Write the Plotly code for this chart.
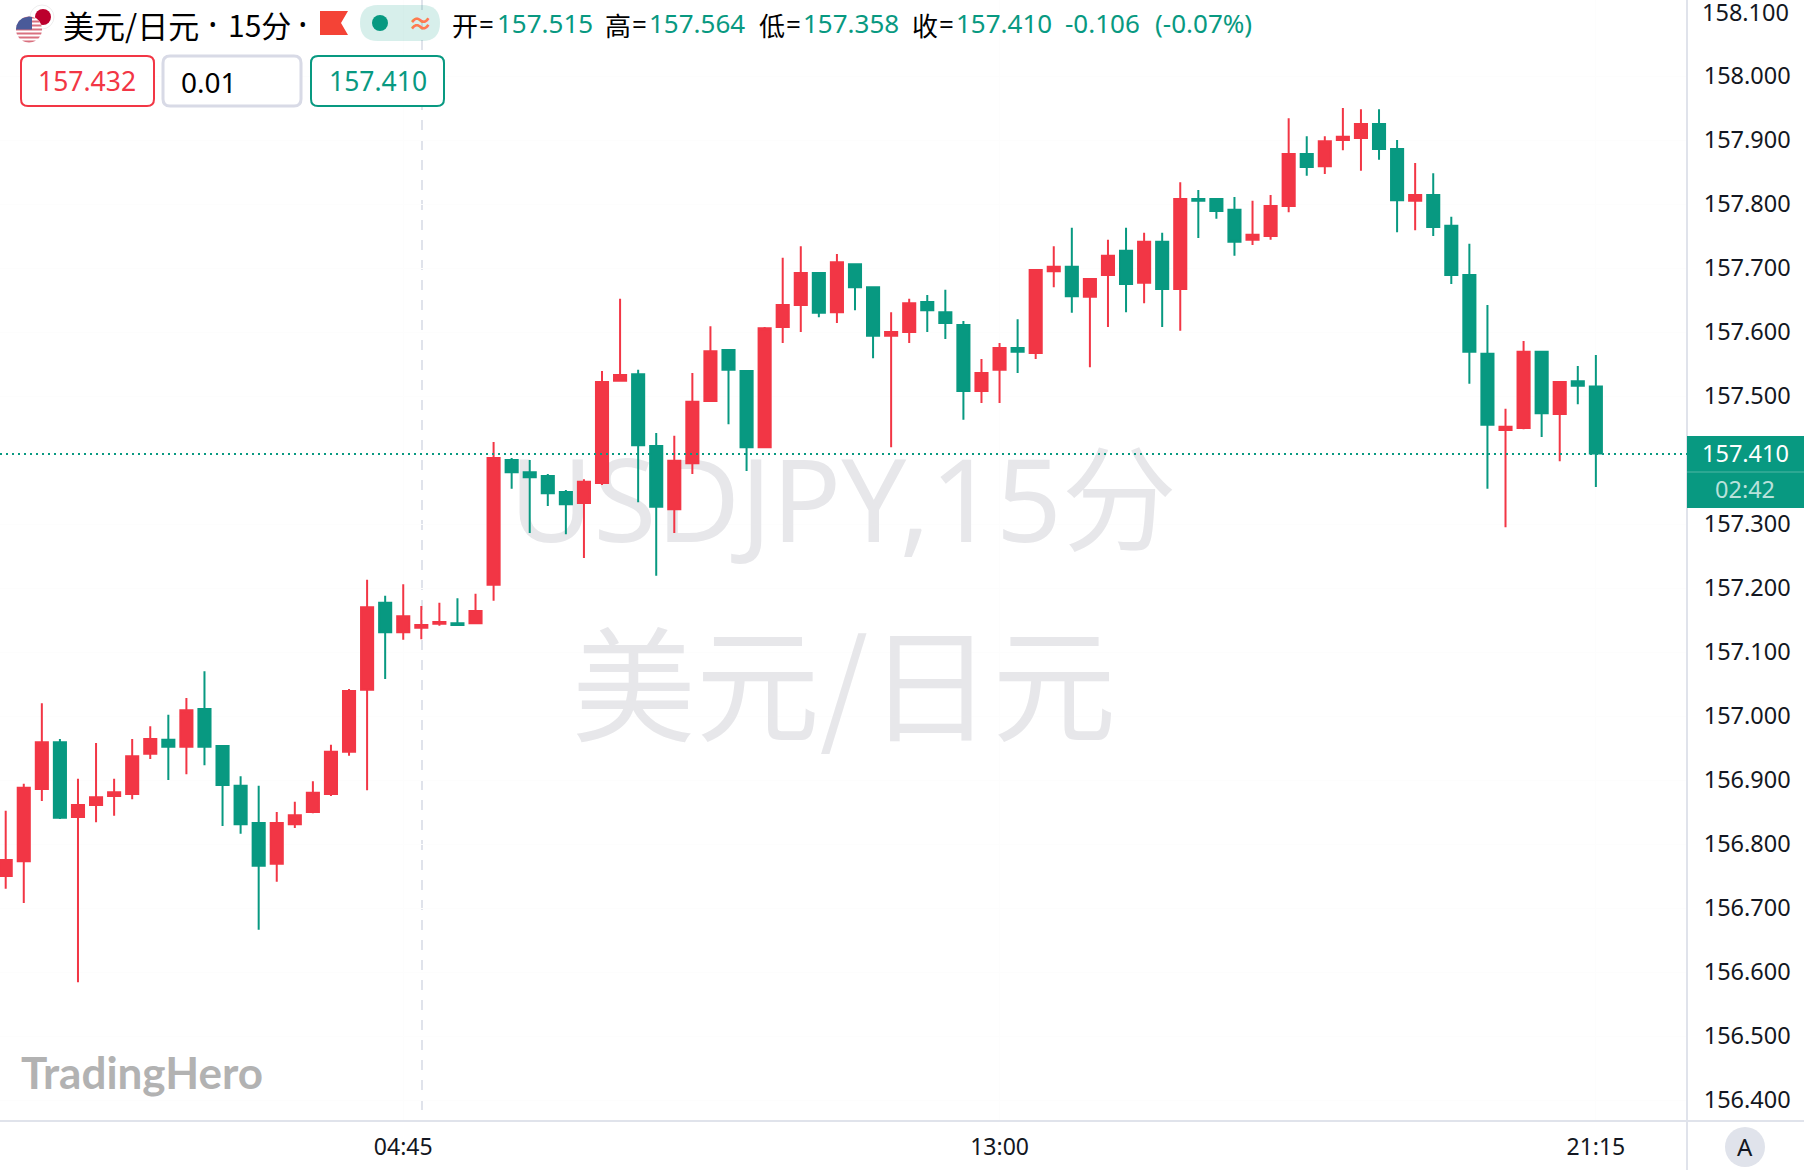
import numpy as np
import pandas as pd
import plotly.graph_objects as go

open_ = [156.750,156.773,156.886,156.959,156.842,156.861,156.875,156.878,156.941,156.963,
 156.952,157.011,156.953,156.891,156.833,156.769,156.831,156.850,156.878,156.944,
 157.041,157.177,157.131,157.138,157.144,157.145,157.145,157.205,157.400,157.381,
 157.375,157.350,157.333,157.364,157.524,157.534,157.422,157.323,157.395,157.492,
 157.572,157.539,157.420,157.608,157.642,157.692,157.631,157.706,157.670,157.594,
 157.600,157.647,157.631,157.611,157.508,157.541,157.575,157.567,157.695,157.702,
 157.655,157.689,157.727,157.677,157.741,157.667,157.808,157.808,157.791,157.744,
 157.750,157.797,157.878,157.859,157.900,157.903,157.925,157.886,157.805,157.814,
 157.766,157.689,157.566,157.447,157.450,157.569,157.472,157.523,157.515]
high = [156.852,156.894,157.020,156.964,156.902,156.958,156.902,156.964,156.984,157.002,
 157.028,157.070,156.953,156.906,156.891,156.850,156.866,156.898,156.955,157.042,
 157.213,157.188,157.206,157.172,157.177,157.184,157.191,157.428,157.403,157.400,
 157.378,157.353,157.370,157.539,157.652,157.541,157.442,157.438,157.536,157.609,
 157.572,157.539,157.608,157.716,157.734,157.692,157.722,157.706,157.670,157.631,
 157.652,157.658,157.666,157.617,157.558,157.583,157.620,157.698,157.734,157.763,
 157.684,157.744,157.763,157.755,157.755,157.834,157.822,157.809,157.811,157.805,
 157.814,157.934,157.906,157.906,157.950,157.948,157.948,157.900,157.864,157.848,
 157.780,157.738,157.642,157.480,157.586,157.569,157.523,157.547,157.564]
low = [156.730,156.708,156.867,156.839,156.584,156.834,156.844,156.870,156.933,156.900,
 156.909,156.923,156.828,156.816,156.666,156.741,156.825,156.848,156.875,156.938,
 156.884,157.058,157.119,157.120,157.141,157.141,157.144,157.180,157.355,157.286,
 157.328,157.284,157.247,157.361,157.524,157.334,157.219,157.286,157.378,157.492,
 157.456,157.383,157.420,157.583,157.600,157.623,157.614,157.634,157.559,157.420,
 157.583,157.600,157.589,157.463,157.489,157.489,157.536,157.558,157.670,157.630,
 157.545,157.608,157.631,157.645,157.608,157.602,157.747,157.777,157.719,157.736,
 157.744,157.787,157.844,157.847,157.884,157.852,157.869,157.756,157.759,157.750,
 157.675,157.519,157.355,157.295,157.448,157.436,157.398,157.487,157.358]
close = [156.775,156.888,156.959,156.841,156.861,156.873,156.881,156.937,156.964,156.952,
 157.009,156.952,156.892,156.831,156.766,156.833,156.845,156.880,156.944,157.039,
 157.170,157.131,157.156,157.142,157.147,157.142,157.164,157.403,157.381,157.373,
 157.348,157.331,157.366,157.522,157.533,157.423,157.327,157.399,157.491,157.570,
 157.541,157.420,157.606,157.642,157.692,157.630,157.709,157.670,157.594,157.600,
 157.645,157.634,157.614,157.508,157.536,157.575,157.569,157.697,157.702,157.656,
 157.683,157.719,157.675,157.741,157.667,157.808,157.805,157.789,157.741,157.752,
 157.797,157.878,157.858,157.898,157.905,157.925,157.886,157.806,157.814,157.764,
 157.689,157.569,157.455,157.452,157.569,157.473,157.522,157.516,157.410]

times = pd.date_range("2024-01-01 23:15", periods=len(close), freq="15min")
time_ticks = ["2024-01-02 04:45", "2024-01-02 13:00", "2024-01-02 21:15"]
time_labels = ["04:45", "13:00", "21:15"]
price_ticks = [156.4,156.5,156.6,156.7,156.8,156.9,157.0,157.1,157.2,157.3,
               157.5,157.6,157.7,157.8,157.9,158.0]
last_price = 157.410

W, H = 1804, 1170
PW, PH = 1687, 1121
RED, GREEN = "#F23645", "#089981"
LINE = "#E0E3EB"
TEXT = "#131722"
UI = "Noto Sans, Noto Sans CJK SC"
CJK = "Noto Sans CJK SC, Noto Sans"

fx = lambda px: px / PW
fy = lambda py: 1 - py / PH

def rrect(x0, y0, x1, y1, r):
    return (f"M {fx(x0+r)} {fy(y0)} L {fx(x1-r)} {fy(y0)} Q {fx(x1)} {fy(y0)} {fx(x1)} {fy(y0+r)} "
            f"L {fx(x1)} {fy(y1-r)} Q {fx(x1)} {fy(y1)} {fx(x1-r)} {fy(y1)} "
            f"L {fx(x0+r)} {fy(y1)} Q {fx(x0)} {fy(y1)} {fx(x0)} {fy(y1-r)} "
            f"L {fx(x0)} {fy(y0+r)} Q {fx(x0)} {fy(y0)} {fx(x0+r)} {fy(y0)} Z")

def poly(pts):
    return "M " + " L ".join(f"{fx(a)} {fy(b)}" for a, b in pts) + " Z"

shapes, annos = [], []

def sh(kind, x0=0, y0=0, x1=0, y1=0, fill=None, color=None, width=0, dash=None, layer="above", path=None):
    d = dict(type=kind, xref="paper", yref="paper", layer=layer,
             line=dict(color=color or "rgba(0,0,0,0)", width=width))
    if dash:
        d["line"]["dash"] = dash
    if fill:
        d["fillcolor"] = fill
    if path:
        d["path"] = path
    else:
        d.update(x0=fx(x0), x1=fx(x1), y0=fy(y0), y1=fy(y1))
    shapes.append(d)

def txt(x, y, s, size=25, color=TEXT, anchor="left", family=UI):
    annos.append(dict(xref="paper", yref="paper", x=fx(x), y=fy(y), text=s, showarrow=False,
                      xanchor=anchor, yanchor="middle", borderpad=0,
                      font=dict(family=family, size=size, color=color)))

# crosshair, frame, last price line
sh("line", 422, 0, 422, PH, color=LINE, width=2, dash="10px,10px", layer="below")
sh("line", 0, PH, W, PH, color=LINE, width=2)
sh("line", PW, 0, PW, H, color=LINE, width=2)
sh("line", 0, 454, PW, 454, color=GREEN, width=2, dash="2px,4px")

# price label that sits at the very top edge of the axis
txt(1745, 12, "158.100", 23.5, TEXT, "center")

# last price tag
sh("rect", PW, 436, W, 508, fill=GREEN)
sh("line", PW, 472, W, 472, color="rgba(255,255,255,0.3)", width=1)
txt(1745, 453, "157.410", 23.5, "#FFFFFF", "center")
txt(1745, 489, "02:42", 23.5, "rgba(255,255,255,0.72)", "center")

# auto button
sh("circle", 1725, 1127, 1765, 1167, fill=LINE)
txt(1745, 1147, "A", 24, TEXT, "center")

# flags
sh("circle", 30, 5, 54, 29, fill="#FFFFFF", color="#EEEEEE", width=1)
sh("circle", 35, 9, 51, 25, fill="#BC002D")
sh("circle", 16, 16, 42, 43, fill="#FFFFFF")
cx, cy, r = 29, 29.5, 13
for top in np.arange(16.5, 43, 4):
    yy = np.linspace(top, top + 2, 5)
    half = np.sqrt(np.maximum(r**2 - (yy - cy)**2, 0))
    pts = [(cx - h, v) for h, v in zip(half, yy)] + [(cx + h, v) for h, v in zip(half[::-1], yy[::-1])]
    sh("path", path=poly(pts), fill="#D9707F")
yy = np.linspace(cy - r, cy, 8)
half = np.sqrt(np.maximum(r**2 - (yy - cy)**2, 0))
sh("path", path=poly([(cx - h, v) for h, v in zip(half, yy)] + [(cx + 3, cy), (cx + 3, cy - r + 0.5)]), fill="#4A5A99")

# title row
txt(62, 24, "美元/日元", 31, "#000000", family=CJK)
txt(213, 24, "•", 20, "#000000", "center", UI)
txt(227, 24, "15分", 30, "#000000", family=CJK)
txt(303, 24, "•", 20, "#000000", "center", UI)
sh("path", path=poly([(320, 11), (348, 11), (341, 23), (348, 35), (320, 35)]), fill="#F44336")
sh("path", path=rrect(360, 5, 440, 41, 18), fill="rgba(8,153,129,0.16)")
sh("circle", 372, 15, 388, 31, fill=GREEN)
txt(420, 23, "<b>≈</b>", 25, "#FF7A50", "center")

segments = [(451, "开"), (604, "高"), (758, "低"), (911, "收")]
values = [(496, "157.515"), (648, "157.564"), (802, "157.358"), (955, "157.410")]
for (x, s), (vx, v) in zip(segments, values):
    txt(x, 24, s, 26, "#000000", family=CJK)
    txt(x + 27, 24, "=", 26, "#000000")
    txt(vx, 23, v, 26, GREEN)
txt(1064, 23, "-0.106", 26, GREEN)
txt(1154, 23, "(-0.07%)", 26, GREEN)

# quote boxes
sh("path", path=rrect(21, 56, 154, 106, 7), fill="#FFFFFF", color=RED, width=2)
sh("path", path=rrect(163, 56, 301, 106, 7), fill="#FFFFFF", color="#D8DAE6", width=3)
sh("path", path=rrect(311, 56, 444, 106, 7), fill="#FFFFFF", color=GREEN, width=2)
txt(87, 81, "157.432", 26.5, RED, "center")
txt(180, 82, "0.01", 28, "#000000")
txt(378, 81, "157.410", 26.5, GREEN, "center")

# logo
txt(20, 1072, "<b>TradingHero</b>", 44, "#B2B2B2", family="Lato, Noto Sans")

fig = go.Figure()
# watermarks drawn in a pixel-scaled base subplot under the candles
fig.add_trace(go.Scatter(x=[843], y=[513], mode="text", text=["USDJPY,15分"], textposition="middle center",
                         textfont=dict(family=UI, size=115, color="#E7E7EA"),
                         hoverinfo="skip", showlegend=False, xaxis="x", yaxis="y", cliponaxis=False))
fig.add_trace(go.Scatter(x=[844], y=[701], mode="text", text=["美元/日元"], textposition="middle center",
                         textfont=dict(family=CJK, size=124, color="#E7E7EA"),
                         hoverinfo="skip", showlegend=False, xaxis="x", yaxis="y", cliponaxis=False))
fig.add_trace(go.Candlestick(
    x=times, open=open_, high=high, low=low, close=close, xaxis="x2", yaxis="y2",
    increasing=dict(line=dict(color=RED, width=2), fillcolor=RED),
    decreasing=dict(line=dict(color=GREEN, width=2), fillcolor=GREEN),
    whiskerwidth=0, showlegend=False))

t0 = times[0]
step = pd.Timedelta(minutes=15)
xr = [str(t0 + step * (-5.7 / 18.07)), str(t0 + step * ((PW - 5.7) / 18.07))]
yr = [157.6 - (PH - 332) / 640, 157.6 + 332 / 640]
GRID = "#FDFDFD"

fig.update_layout(
    width=W, height=H, margin=dict(l=0, r=W - PW, t=0, b=H - PH),
    paper_bgcolor="#FFFFFF", plot_bgcolor="#FFFFFF", boxgap=0.33, boxgroupgap=0, showlegend=False,
    font=dict(family=UI, size=23, color=TEXT),
    xaxis=dict(range=[0, PW], visible=False, domain=[0, 1], fixedrange=True),
    yaxis=dict(range=[PH, 0], visible=False, domain=[0, 1], fixedrange=True),
    xaxis2=dict(type="date", overlaying="x", anchor="y2", range=xr, rangeslider=dict(visible=False),
                tickmode="array", tickvals=time_ticks, ticktext=time_labels,
                ticks="outside", ticklen=5, tickcolor="rgba(0,0,0,0)", showgrid=True, gridcolor=GRID,
                zeroline=False, showline=False, tickfont=dict(family=UI, size=23, color=TEXT)),
    yaxis2=dict(overlaying="y", anchor="x2", side="right", range=yr,
                tickmode="array", tickvals=price_ticks, tickformat=".3f",
                ticks="outside", ticklen=11, tickcolor="rgba(0,0,0,0)", showgrid=True, gridcolor=GRID,
                zeroline=False, showline=False, tickfont=dict(family=UI, size=23.5, color=TEXT)),
    shapes=shapes, annotations=annos,
)

fig.write_html("out.html", config=dict(displayModeBar=False), post_script="document.body.style.margin='0';")
